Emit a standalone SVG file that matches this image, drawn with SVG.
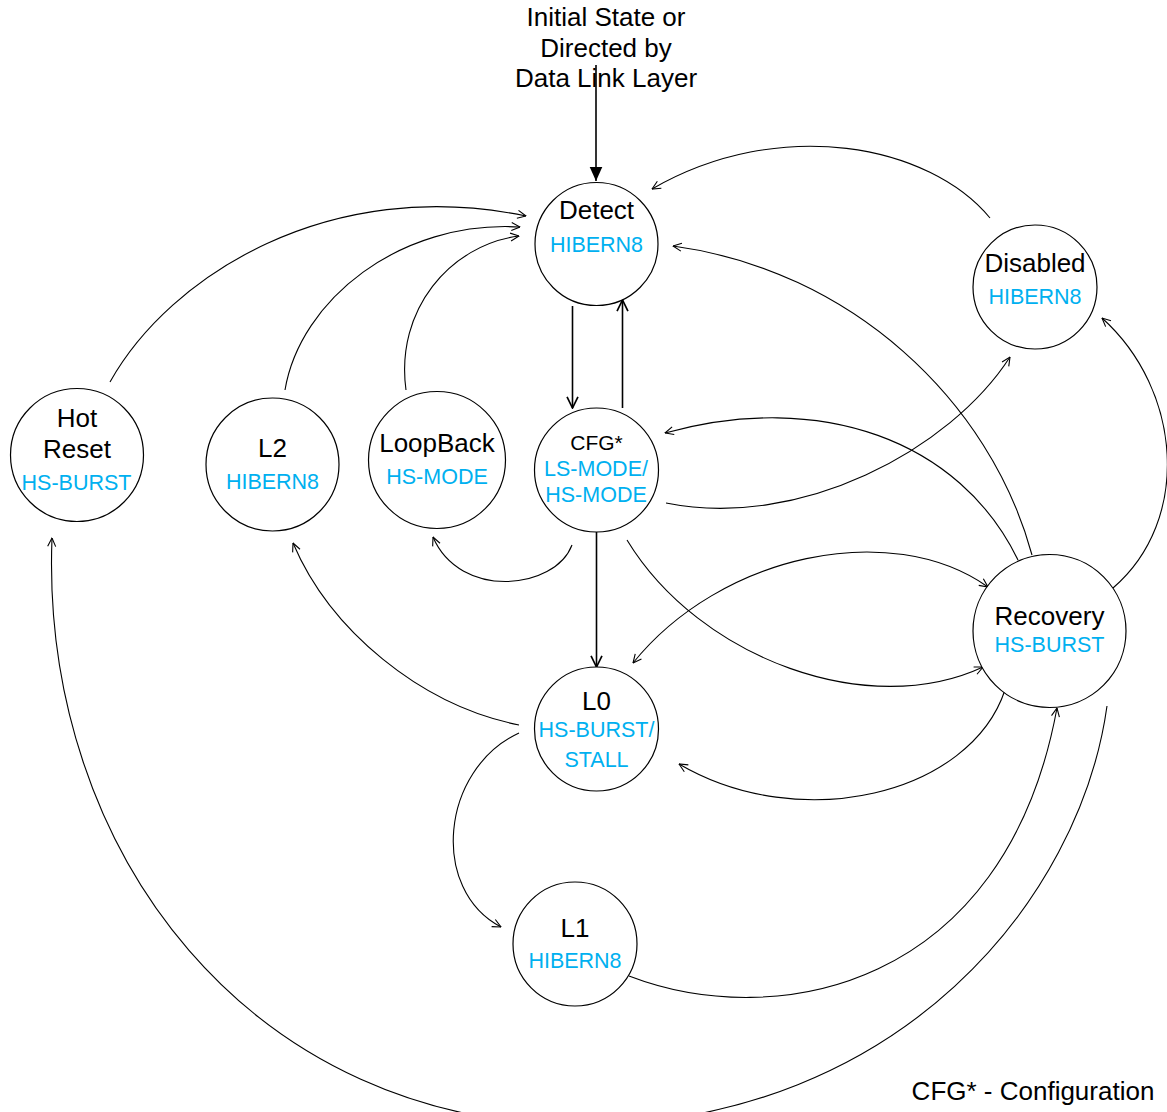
<svg xmlns="http://www.w3.org/2000/svg" width="1167" height="1112" viewBox="0 0 1167 1112">
<style>
text{font-family:"Liberation Sans",Arial,sans-serif;text-anchor:middle}
.n{font-size:26px;fill:#000}
.s{font-size:21.5px;fill:#00B0F0}
.c{font-size:21px;fill:#000}
circle{fill:#fff;stroke:#000;stroke-width:1.2}
.e{fill:none;stroke:#000;stroke-width:1.1}
.st{fill:none;stroke:#000;stroke-width:1.6}
</style>
<defs>
<marker id="a" viewBox="0 0 10 10" refX="9.5" refY="5" markerWidth="10" markerHeight="10" markerUnits="userSpaceOnUse" orient="auto-start-reverse">
<path d="M1,1 L9.5,5 L1,9" fill="none" stroke="#000" stroke-width="1.1"/>
</marker>
<marker id="b" viewBox="0 0 10 10" refX="9.5" refY="5" markerWidth="13" markerHeight="14" markerUnits="userSpaceOnUse" orient="auto">
<path d="M1,0.8 L9.5,5 L1,9.2" fill="none" stroke="#000" stroke-width="1.3"/>
</marker>
<marker id="f" viewBox="0 0 10 10" refX="10" refY="5" markerWidth="14" markerHeight="14" markerUnits="userSpaceOnUse" orient="auto">
<path d="M0,0.5 L10,5 L0,9.5 z" fill="#000"/>
</marker>
</defs>
<g id="connectors">
<path class="st" d="M596,65 L596,181" marker-end="url(#f)"/>
<path class="st" d="M572.5,306 L572.5,408" marker-end="url(#b)"/>
<path class="st" d="M622.5,408 L622.5,300" marker-end="url(#b)"/>
<path class="st" d="M596.5,532 L596.5,667" marker-end="url(#b)"/>
<path class="e" d="M110,382 C170,275 330,175 526,216" marker-end="url(#a)"/>
<path class="e" d="M285,390 C300,300 400,220 520,227" marker-end="url(#a)"/>
<path class="e" d="M406,390 C395,310 450,245 519,236" marker-end="url(#a)"/>
<path class="e" d="M990,218 C930,145 780,115 652,189" marker-end="url(#a)"/>
<path class="e" d="M1032,555 C990,400 850,270 673,246" marker-end="url(#a)"/>
<path class="e" d="M1113,588 C1192,520 1182,390 1102,318" marker-end="url(#a)"/>
<path class="e" d="M666,503 C800,530 950,450 1010,357" marker-end="url(#a)"/>
<path class="e" d="M1018,560 C960,440 820,390 665,433" marker-end="url(#a)"/>
<path class="e" d="M572,545 C555,590 460,600 433,537" marker-end="url(#a)"/>
<path class="e" d="M627,540 C700,660 870,720 983,667" marker-end="url(#a)"/>
<path class="e" d="M633,663 C720,555 890,518 988,587" marker-start="url(#a)" marker-end="url(#a)"/>
<path class="e" d="M519,725 C420,705 330,630 293,543" marker-end="url(#a)"/>
<path class="e" d="M519,733 C440,770 430,890 501,927" marker-end="url(#a)"/>
<path class="e" d="M1005,690 C970,795 800,835 679,764" marker-end="url(#a)"/>
<path class="e" d="M629,976 C775,1032 1005,990 1057,708" marker-end="url(#a)"/>
<path class="e" d="M1107,706 C1080,900 900,1120 590,1125 C250,1130 40,850 52,538" marker-end="url(#a)"/>
</g>
<g id="title"><text class="n" x="606" y="26">Initial State or</text><text class="n" x="606" y="56.5">Directed by</text><text class="n" x="606" y="87">Data Link Layer</text></g>
<g id="detect"><circle cx="596.5" cy="244" r="61.5"/><text class="n" x="596.5" y="219">Detect</text><text class="s" x="596.5" y="252">HIBERN8</text></g>
<g id="disabled"><circle cx="1035" cy="287" r="62"/><text class="n" x="1035" y="272">Disabled</text><text class="s" x="1035" y="304">HIBERN8</text></g>
<g id="hotreset"><circle cx="77" cy="455" r="66.5"/><text class="n" x="77" y="427">Hot</text><text class="n" x="77" y="457.5">Reset</text><text class="s" x="76.5" y="489.5">HS-BURST</text></g>
<g id="l2"><circle cx="272.5" cy="464.5" r="66.5"/><text class="n" x="272.5" y="457">L2</text><text class="s" x="272.5" y="488.5">HIBERN8</text></g>
<g id="loopback"><circle cx="437" cy="460" r="68.5"/><text class="n" x="437" y="452">LoopBack</text><text class="s" x="437" y="483.5">HS-MODE</text></g>
<g id="cfg"><circle cx="596.5" cy="470" r="62"/><text class="c" x="596.5" y="450">CFG*</text><text class="s" x="596" y="476">LS-MODE/</text><text class="s" x="596" y="502">HS-MODE</text></g>
<g id="recovery"><circle cx="1049.5" cy="631" r="76.5"/><text class="n" x="1049.5" y="625">Recovery</text><text class="s" x="1049.5" y="652">HS-BURST</text></g>
<g id="l0"><circle cx="596.5" cy="729" r="62"/><text class="n" x="596.5" y="709.5">L0</text><text class="s" x="596.5" y="736.5">HS-BURST/</text><text class="s" x="596.5" y="766.5">STALL</text></g>
<g id="l1"><circle cx="575" cy="944" r="62"/><text class="n" x="575" y="937">L1</text><text class="s" x="575" y="968">HIBERN8</text></g>
<g id="legend"><text class="n" x="1033" y="1100">CFG* - Configuration</text></g>
</svg>
